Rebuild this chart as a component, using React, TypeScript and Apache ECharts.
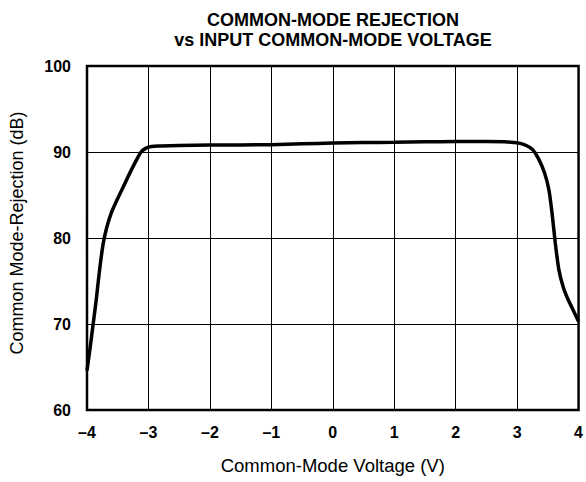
import React, { useEffect, useRef } from "react";
import * as echarts from "echarts";

const titleLines = ["COMMON-MODE REJECTION", "vs INPUT COMMON-MODE VOLTAGE"];
const xAxisTitle = "Common-Mode Voltage (V)";
const yAxisTitle = "Common Mode-Rejection (dB)";

const voltage = [
  -4, -3.95, -3.9, -3.85, -3.8, -3.74, -3.68, -3.6, -3.5, -3.4, -3.3, -3.2,
  -3.12, -3.04, -2.95, -2.8, -2.5, -2, -1.5, -1, -0.5, 0, 0.5, 1, 1.5, 2, 2.5,
  2.8, 2.95, 3.05, 3.15, 3.25, 3.35, 3.45, 3.52, 3.57, 3.62, 3.68, 3.75, 3.82,
  3.9, 4,
];
const cmr = [
  64.6, 67.2, 70.0, 72.8, 76.0, 79.2, 81.2, 83.0, 84.6, 86.1, 87.6, 89.0, 90.0,
  90.45, 90.65, 90.7, 90.75, 90.8, 90.82, 90.85, 90.95, 91.05, 91.1, 91.12,
  91.18, 91.22, 91.22, 91.2, 91.1, 91.0, 90.75, 90.3, 89.2, 87.5, 85.5, 82.8,
  79.5, 76.3, 74.3, 73.0, 71.8, 70.3,
];

const FONT = "'Liberation Sans', Arial, Helvetica, sans-serif";

export default function App() {
  const ref = useRef<HTMLDivElement>(null);
  useEffect(() => {
    if (!ref.current) return;
    const chart = echarts.init(ref.current, null, { renderer: "svg" });
    chart.setOption({
      animation: false,
      backgroundColor: "#fff",
      title: {
        text: titleLines.join("\n"),
        left: 328,
        top: 5,
        textAlign: "center",
        textStyle: {
          fontFamily: FONT,
          fontWeight: "bold",
          fontSize: 18,
          lineHeight: 20,
          color: "#000",
        },
      },
      graphic: [
        {
          type: "text",
          x: 17,
          y: 233,
          rotation: Math.PI / 2,
          style: {
            text: yAxisTitle,
            fontFamily: FONT,
            fontSize: 18,
            fill: "#000",
            textAlign: "center",
            textVerticalAlign: "middle",
          },
        },
      ],
      grid: {
        left: 87,
        right: 4,
        top: 66,
        bottom: 72,
        show: true,
        borderColor: "#000",
        borderWidth: 2.5,
        backgroundColor: "transparent",
      },
      xAxis: {
        type: "value",
        min: -4,
        max: 4,
        interval: 1,
        name: xAxisTitle,
        nameLocation: "middle",
        nameGap: 46,
        nameTextStyle: { fontFamily: FONT, fontSize: 18.5, color: "#000" },
        axisLine: { show: false },
        axisTick: { show: false },
        axisLabel: {
          margin: 14,
          fontFamily: FONT,
          fontSize: 16,
          fontWeight: "bold",
          color: "#000",
          formatter: (v: number) => (v < 0 ? "\u2013" + Math.abs(v) : String(v)),
        },
        splitLine: { show: true, lineStyle: { color: "#000", width: 1 } },
      },
      yAxis: {
        type: "value",
        min: 60,
        max: 100,
        interval: 10,
        axisLine: { show: false },
        axisTick: { show: false },
        axisLabel: {
          margin: 16,
          fontFamily: FONT,
          fontSize: 16,
          fontWeight: "bold",
          color: "#000",
        },
        splitLine: { show: true, lineStyle: { color: "#000", width: 1 } },
      },
      series: [
        {
          type: "line",
          data: voltage.map((v, i) => [v, cmr[i]]),
          smooth: 0.25,
          symbol: "none",
          lineStyle: { color: "#000", width: 3.5 },
          z: 5,
        },
      ],
    });
    return () => chart.dispose();
  }, []);
  return (
    <div
      ref={ref}
      style={{ position: "fixed", left: 0, top: 0, width: 586, height: 482 }}
    />
  );
}
